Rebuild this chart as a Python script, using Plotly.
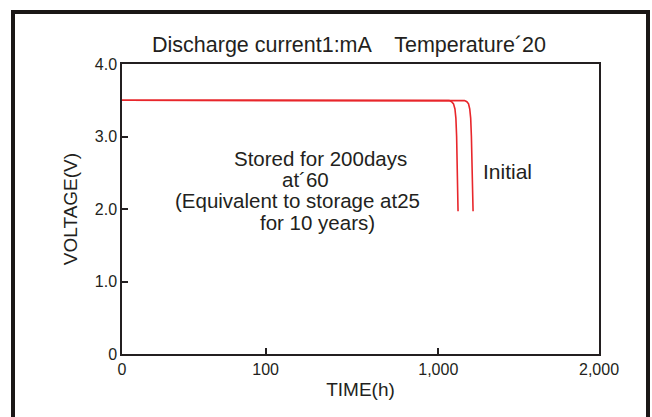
import plotly.graph_objects as go

# Data (x in axis position units: axis spans 0..2000, labels placed at tick_vals)
stored_x = [0, 1360, 1372, 1382, 1390, 1396, 1400, 1403, 1406, 1409]
stored_y = [3.50, 3.50, 3.495, 3.48, 3.45, 3.38, 3.25, 3.0, 2.5, 1.97]
initial_x = [0, 1424, 1436, 1446, 1453, 1458, 1462, 1465, 1469, 1472]
initial_y = [3.50, 3.50, 3.495, 3.48, 3.45, 3.38, 3.25, 3.0, 2.5, 1.97]

x_tick_vals = [0, 602, 1326, 2000]
x_tick_text = ["0", "100", "1,000", "2,000"]
y_tick_vals = [0, 1, 2, 3, 4]
y_tick_text = ["0", "1.0", "2.0", "3.0", "4.0"]

RED = "#e8262b"
INK = "#231f20"
FONT = "Liberation Sans, Arial, sans-serif"

fig = go.Figure()
for xs, ys in [(stored_x, stored_y), (initial_x, initial_y)]:
    fig.add_trace(go.Scatter(x=xs, y=ys, mode="lines",
                             line=dict(color=RED, width=1.6),
                             showlegend=False, hoverinfo="skip"))

axis_common = dict(showline=True, linecolor=INK, linewidth=1.5, mirror=True,
                   showgrid=False, zeroline=False, ticks="inside", ticklen=6,
                   tickwidth=1.5, tickcolor=INK,
                   tickfont=dict(family=FONT, size=16, color=INK))

fig.update_xaxes(range=[0, 2000], tickmode="array", tickvals=x_tick_vals,
                 ticktext=x_tick_text, title=dict(text="TIME(h)", standoff=6,
                 font=dict(family=FONT, size=19, color=INK)), **axis_common)
fig.update_yaxes(range=[0, 4], tickmode="array", tickvals=y_tick_vals,
                 ticktext=y_tick_text, title=dict(text="VOLTAGE(V)", standoff=12,
                 font=dict(family=FONT, size=19, color=INK)), **axis_common)

def px_x(p):
    return (p - 122) / 477.0

def px_y(p):
    return (354 - p) / 290.0

annots = [
    ("Discharge current1:mA    Temperature´20", 349, 45, 21.5),
    ("Stored for 200days", 320, 158, 20.5),
    ("at´60", 305, 179.5, 20.5),
    ("(Equivalent to storage at25", 297, 201, 20.5),
    ("for 10 years)", 317, 222.5, 20.5),
    ("Initial", 507, 171, 21),
]
for text, xp, yp, size in annots:
    fig.add_annotation(text=text, x=px_x(xp), y=px_y(yp), xref="paper", yref="paper",
                       showarrow=False, xanchor="center", yanchor="middle",
                       font=dict(family=FONT, size=size, color=INK))

# outer thick frame
fig.add_shape(type="rect", xref="paper", yref="paper",
              x0=px_x(13), x1=px_x(648), y0=px_y(440), y1=px_y(12),
              line=dict(color="#1a1716", width=4), fillcolor="rgba(0,0,0,0)")

fig.update_layout(width=652, height=417, margin=dict(l=122, r=53, t=64, b=63),
                  paper_bgcolor="white", plot_bgcolor="white",
                  font=dict(family=FONT, color=INK))

fig.write_html("out.html", config={"displayModeBar": False},
               post_script="document.body.style.margin='0';document.body.style.overflow='hidden';")
